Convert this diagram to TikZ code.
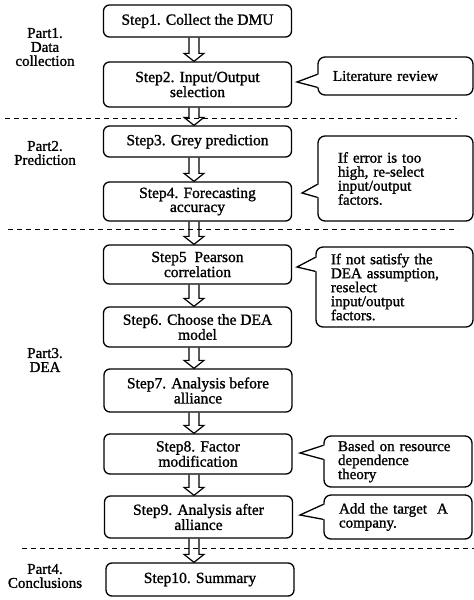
\documentclass[tikz,border=0pt]{standalone}
\usepackage{fontspec}
\setmainfont{Liberation Serif}[BoldFont={Liberation Serif}, BoldFeatures={FakeBold=1.2}]
\usetikzlibrary{calc}
\tikzset{
  stepbox/.style={draw, line width=1.3pt, rounded corners=6pt, minimum width=188pt,
    align=center, inner sep=0pt, font=\fontsize{15.5}{14}\selectfont\bfseries},
  notebox/.style={draw, line width=1.3pt, rounded corners=7pt, align=left,
    inner ysep=0pt, font=\fontsize{15}{14}\selectfont\bfseries},
  partlabel/.style={align=center, inner sep=0pt, font=\fontsize{15}{14}\selectfont\bfseries},
  sepline/.style={line width=1pt, dash pattern=on 5pt off 4pt},
  hollow/.style={line width=1.2pt, line join=miter},
  pointer/.style={line width=1.3pt, line join=miter}
}
\newcommand\harrow[2]{%
  \draw[hollow] ($(ax |- #1.south)+(-5,0)$) -- ($(ax |- #2.north)+(-5,-8)$)
    -- ($(ax |- #2.north)+(-10,-8)$) -- (ax |- #2.north)
    -- ($(ax |- #2.north)+(10,-8)$) -- ($(ax |- #2.north)+(5,-8)$)
    -- ($(ax |- #1.south)+(5,0)$);}
\newcommand\callptr[4]{% node, tip, offset1, offset2
  \fill[white] ($(#1.north west)+(2,#3)$) -- (#2) -- ($(#1.north west)+(2,#4)$) -- cycle;
  \draw[pointer] ($(#1.north west)+(0,#3)$) -- (#2) -- ($(#1.north west)+(0,#4)$);}
\begin{document}
\begin{tikzpicture}[x=1pt, y=-1pt]
\useasboundingbox (0,0) rectangle (474,600);
\coordinate (ax) at (194,0);

% separators
\draw[sepline] (5,118) -- (457,118);
\draw[sepline] (8,229) -- (458,229);
\draw[sepline] (22,548) -- (474,548);

% part labels
\node[partlabel] (p1) at (45,47) {Part1.\\Data\\collection};
\node[partlabel] (p2) at (45,153) {Part2.\\Prediction};
\node[partlabel] (p3) at (45,360) {Part3.\\DEA};
\node[partlabel] (p4) at (45,576) {Part4.\\Conclusions};

% steps
\node[stepbox, minimum height=32pt] (s1) at (197.5,21) {Step1. Collect the DMU};
\node[stepbox, minimum height=45pt] (s2) at (197.5,84.5) {Step2. Input/Output\\selection};
\node[stepbox, minimum height=31pt] (s3) at (197.5,141.5) {Step3. Grey prediction};
\node[stepbox, minimum height=39pt] (s4) at (197.5,201.5) {Step4. Forecasting\\accuracy};
\node[stepbox, minimum height=39pt] (s5) at (197.5,264.5) {Step5\ \ Pearson\\correlation};
\node[stepbox, minimum height=40pt] (s6) at (197.5,327) {Step6. Choose the DEA\\model};
\node[stepbox, minimum height=43pt] (s7) at (198,390.5) {Step7. Analysis before\\alliance};
\node[stepbox, minimum height=40pt] (s8) at (198,454) {Step8. Factor\\modification};
\node[stepbox, minimum height=42pt] (s9) at (198.5,517) {Step9. Analysis after\\alliance};
\node[stepbox, minimum height=33pt] (s10) at (200,579.5) {Step10. Summary};

% arrows
\harrow{s1}{s2}
\harrow{s2}{s3}
\harrow{s3}{s4}
\harrow{s4}{s5}
\harrow{s5}{s6}
\harrow{s6}{s7}
\harrow{s7}{s8}
\harrow{s8}{s9}
\harrow{s9}{s10}

% callouts
\node[notebox, inner xsep=15pt, text width=125pt, minimum height=38pt] (c1) at (395.5,76) {Literature review};
\node[notebox, inner xsep=20pt, text width=115pt, minimum height=85pt] (c2) at (395.5,178.5) {If error is too\\high, re-select\\input/output\\factors.};
\node[notebox, inner xsep=15pt, text width=127pt, minimum height=80pt] (c3) at (394.5,287) {If not satisfy the\\DEA assumption,\\reselect\\input/output\\factors.};
\node[notebox, inner xsep=14pt, text width=120pt, minimum height=51pt] (c4) at (398,461.5) {Based on resource\\dependence\\theory};
\node[notebox, inner xsep=15pt, text width=118pt, minimum height=44pt] (c5) at (398,517) {Add the target\ \ A\\company.};

\coordinate (t1) at (297,82);
\coordinate (t2) at (302,193);
\coordinate (t3) at (297,267);
\coordinate (t4) at (300,453);
\coordinate (t5) at (300,515);
\callptr{c1}{t1}{18}{31}
\callptr{c2}{t2}{49}{62}
\callptr{c3}{t3}{11}{25}
\callptr{c4}{t4}{10}{24}
\callptr{c5}{t5}{10}{25}
\end{tikzpicture}
\end{document}
